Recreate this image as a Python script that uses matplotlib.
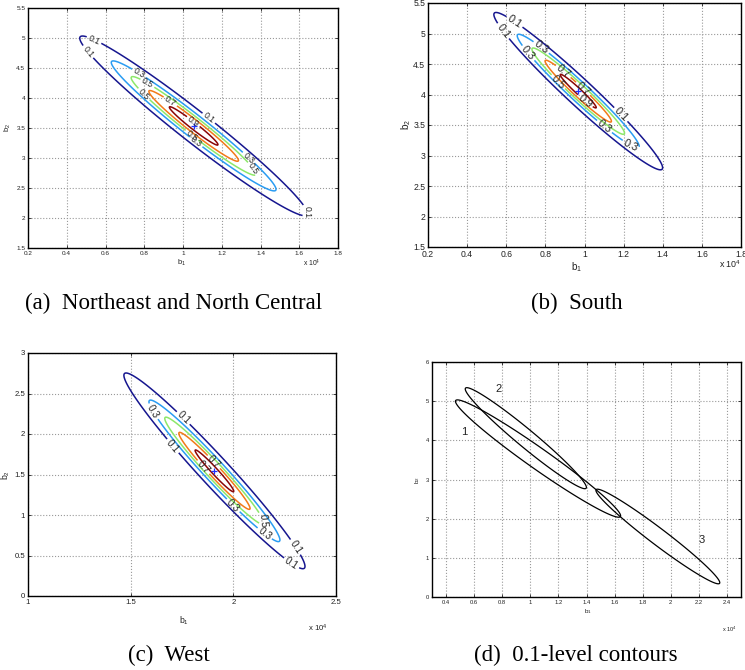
import numpy as np
import matplotlib
matplotlib.use("Agg")
import matplotlib.pyplot as plt

# ---- data (b1 in units of 1e4) ----
# confidence region for each census region: centre, spreads, correlation
region_names = ["Northeast and North Central", "South", "West"]
centre_b1 = [1.055, 0.968, 1.908]
centre_b2 = [3.535, 4.055, 1.545]
sigma_b1 = [0.274, 0.201, 0.2055]
sigma_b2 = [0.698, 0.601, 0.563]
rho = [-0.976, -0.974, -0.976]

levels = [0.1, 0.3, 0.5, 0.7, 0.9]
level_colors = ["#16168f", "#2a9cf2", "#8de86a", "#f27a18", "#8a0505"]

xlims = [(0.2, 1.8), (0.2, 1.8), (1.0, 2.5), (0.3, 2.5)]
ylims = [(1.5, 5.5), (1.5, 5.5), (0.0, 3.0), (0.0, 6.0)]
xticks = [np.arange(0.2, 1.81, 0.2), np.arange(0.2, 1.81, 0.2),
          [1, 1.5, 2, 2.5], np.arange(0.4, 2.41, 0.2)]
yticks = [np.arange(1.5, 5.51, 0.5), np.arange(1.5, 5.51, 0.5),
          np.arange(0, 3.01, 0.5), np.arange(0, 6.1, 1)]
xticklabels = [["0.2", "0.4", "0.6", "0.8", "1", "1.2", "1.4", "1.6", "1.8"],
               ["0.2", "0.4", "0.6", "0.8", "1", "1.2", "1.4", "1.6", "1.8"],
               ["1", "1.5", "2", "2.5"],
               ["0.4", "0.6", "0.8", "1", "1.2", "1.4", "1.6", "1.8", "2", "2.2", "2.4"]]
yticklabels = [["1.5", "2", "2.5", "3", "3.5", "4", "4.5", "5", "5.5"],
               ["1.5", "2", "2.5", "3", "3.5", "4", "4.5", "5", "5.5"],
               ["0", "0.5", "1", "1.5", "2", "2.5", "3"],
               ["0", "1", "2", "3", "4", "5", "6"]]
captions = ["(a)  Northeast and North Central", "(b)  South", "(c)  West",
            "(d)  0.1-level contours"]
ellipse_tags = ["1", "2", "3"]
tag_b1 = [0.526, 0.773, 2.217]
tag_b2 = [4.22, 5.31, 1.46]

# where the inline contour labels sit in each panel
label_spots = [
    [(0.54, 4.96), (0.51, 4.77), (0.775, 4.42), (0.817, 4.25), (0.80, 4.07),
     (0.934, 3.94), (1.054, 3.61), (1.132, 3.66), (1.049, 3.39), (1.063, 3.25),
     (1.338, 3.0), (1.364, 2.83), (1.649, 2.11)],
    [(0.64, 5.18), (0.58, 5.03), (0.776, 4.76), (0.713, 4.68), (0.892, 4.38),
     (0.866, 4.21), (0.994, 4.10), (1.007, 3.91), (1.185, 3.67), (1.096, 3.45),
     (1.241, 3.19)],
    [(1.618, 2.29), (1.761, 2.21), (1.70, 1.84), (1.903, 1.65), (1.854, 1.59),
     (2.0, 1.12), (2.154, 0.94), (2.146, 0.75), (2.30, 0.60), (2.276, 0.38)],
]

# ---- layout (pixels of a 745x670 figure) ----
W, H = 745.0, 670.0
boxes = [(28, 8, 338, 248), (428, 3, 741, 247), (28, 353, 336, 596), (432, 362, 741, 597)]
tick_size = [4.6, 6.2, 5.6, 4.2]
label_pos_x = [(182, 263), (577, 267), (184, 621), (588, 612)]
label_pos_y = [(8, 128), (406, 125), (6, 475), (418, 480)]
label_size = [5.5, 7.0, 6.2, 4.6]
offset_pos = [(312, 263), (730, 264), (318, 628), (729, 629)]
caption_pos = [(174, 303), (577, 303), (169, 655), (576, 655)]

plt.rcParams['font.family'] = ['Liberation Sans', 'DejaVu Sans']
plt.rcParams['mathtext.fontset'] = 'custom'
plt.rcParams['mathtext.rm'] = 'Liberation Sans'
plt.rcParams['mathtext.it'] = 'Liberation Sans'


def likelihood(k, X, Y):
    dx = (X - centre_b1[k]) / sigma_b1[k]
    dy = (Y - centre_b2[k]) / sigma_b2[k]
    r = rho[k]
    q = (dx**2 - 2 * r * dx * dy + dy**2) / (1 - r**2)
    return np.exp(-0.5 * q)


fig = plt.figure(figsize=(W / 100, H / 100), dpi=100)

axes = []
for i, (x0, y0, x1, y1) in enumerate(boxes):
    ax = fig.add_axes([x0 / W, 1 - y1 / H, (x1 - x0) / W, (y1 - y0) / H])
    ax.set_xlim(*xlims[i])
    ax.set_ylim(*ylims[i])
    ax.set_xticks(xticks[i])
    ax.set_xticklabels(xticklabels[i])
    ax.set_yticks(yticks[i])
    ax.set_yticklabels(yticklabels[i])
    ax.tick_params(direction='in', top=True, right=True, length=2.5, width=0.6,
                   labelsize=tick_size[i], pad=2, colors='#222222')
    ax.grid(True, linestyle=':', color='#999999', linewidth=0.8)
    for s in ax.spines.values():
        s.set_linewidth(1.0)
        s.set_color('black')
    axes.append(ax)
    fig.text(label_pos_x[i][0] / W, 1 - label_pos_x[i][1] / H, r'b$_1$',
             fontsize=label_size[i], ha='center', va='center', color='#222222')
    fig.text(label_pos_y[i][0] / W, 1 - label_pos_y[i][1] / H, r'b$_2$',
             fontsize=label_size[i], ha='center', va='center', rotation=90,
             color='#222222')
    fig.text(offset_pos[i][0] / W, 1 - offset_pos[i][1] / H, r'x 10$^4$',
             fontsize=label_size[i] - 0.6, ha='center', va='center', color='#222222')
    fig.text(caption_pos[i][0] / W, 1 - caption_pos[i][1] / H, captions[i],
             fontsize=16.5, ha='center', va='center', family='Liberation Serif')

# panels (a)-(c): set of likelihood levels with inline labels
for k in range(3):
    ax = axes[k]
    gx = np.linspace(xlims[k][0], xlims[k][1], 500)
    gy = np.linspace(ylims[k][0], ylims[k][1], 500)
    X, Y = np.meshgrid(gx, gy)
    Z = likelihood(k, X, Y)
    cs = ax.contour(X, Y, Z, levels=levels, colors=level_colors, linewidths=1.1)
    ax.clabel(cs, fmt='%.1f', fontsize=tick_size[k] + 1.6, inline=True,
              inline_spacing=2, manual=label_spots[k], colors='#222222')
    ax.plot(centre_b1[k], centre_b2[k], '+', color='#2030ff', markersize=4,
            markeredgewidth=0.9)

# panel (d): the 0.1 level of all three regions together
ax = axes[3]
gx = np.linspace(xlims[3][0], xlims[3][1], 700)
gy = np.linspace(ylims[3][0], ylims[3][1], 700)
X, Y = np.meshgrid(gx, gy)
for k in range(3):
    ax.contour(X, Y, likelihood(k, X, Y), levels=[0.1], colors='black',
               linewidths=0.9)
    ax.text(tag_b1[k], tag_b2[k], ellipse_tags[k], fontsize=8, ha='center',
            va='center', color='#222222')

fig.savefig('out.png', dpi=100)
